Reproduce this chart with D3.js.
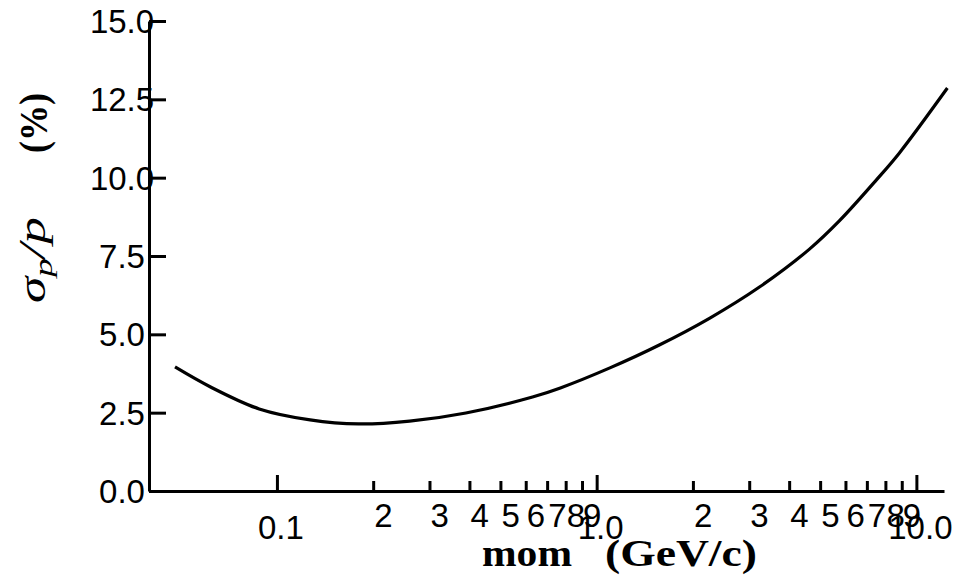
<!DOCTYPE html>
<html>
<head>
<meta charset="utf-8">
<script src="https://cdn.jsdelivr.net/npm/d3@7"></script>
<style>
  body { margin: 0; background: #fff; }
  svg { display: block; }
  .tick-label { font-family: "Liberation Sans", Arial, sans-serif; font-size: 33px; fill: #000; }
</style>
</head>
<body>
<svg id="chart" width="953" height="577"></svg>
<script>
// momentum (GeV/c) and resolution (%)
var mom   = [0.048, 0.062, 0.088, 0.127, 0.18, 0.26, 0.39, 0.63, 0.77, 1.10, 1.57, 2.26, 3.23, 4.63, 5.74, 7.5, 8.85, 12.5];
var sigma = [3.96, 3.32, 2.62, 2.27, 2.14, 2.23, 2.49, 3.0, 3.29, 3.93, 4.66, 5.52, 6.51, 7.72, 8.62, 9.93, 10.79, 12.86];

var yTicks = [0, 2.5, 5, 7.5, 10, 12.5, 15];
var xMajor = [0.1, 1, 10];
var xMajorLabels = ["0.1", "1.0", "10.0"];
var xMinor = [0.2, 0.3, 0.4, 0.5, 0.6, 0.7, 0.8, 0.9, 2, 3, 4, 5, 6, 7, 8, 9];
var xMinorLabels = ["2", "3", "4", "5", "6", "7", "8", "9", "2", "3", "4", "5", "6", "7", "8", "9"];

var svg = d3.select("#chart");

/*
 * scales
 */
var x = d3.scaleLog().domain([0.0398, 12.2]).range([149, 944]);
var y = d3.scaleLinear().domain([0, 15]).range([491, 21]);

function thick(g) {
    g.selectAll("path, line").attr("stroke", "#000").attr("stroke-width", 3);
}

// y axis, ticks pointing inward
svg.append("g")
    .attr("transform", "translate(" + x.range()[0] + ",0)")
    .call(d3.axisRight(y).tickValues(yTicks).tickSize(17).tickSizeOuter(0).tickFormat(""))
    .call(thick);

svg.selectAll(".ylab")
    .data(yTicks)
    .enter().append("text")
    .attr("class", "tick-label")
    .attr("x", x.range()[0] - 27)
    .attr("y", function(d) { return y(d); })
    .attr("dy", "0.36em")
    .attr("text-anchor", "middle")
    .text(d3.format(".1f"));

// x axis, minor ticks then major ticks (pointing up)
svg.append("g")
    .attr("transform", "translate(0," + y(0) + ")")
    .call(d3.axisTop(x).tickValues(xMinor).tickSize(10).tickSizeOuter(0).tickFormat(""))
    .call(thick);

svg.append("g")
    .attr("transform", "translate(0," + y(0) + ")")
    .call(d3.axisTop(x).tickValues(xMajor).tickSize(16).tickSizeOuter(0).tickFormat(""))
    .call(thick)
    .select(".domain").remove();

svg.selectAll(".xminor")
    .data(xMinor)
    .enter().append("text")
    .attr("class", "tick-label")
    .attr("x", function(d) { return x(d) + 1; })
    .attr("y", 527)
    .attr("text-anchor", "start")
    .text(function(d, i) { return xMinorLabels[i]; });

svg.selectAll(".xmajor")
    .data(xMajor)
    .enter().append("text")
    .attr("class", "tick-label")
    .attr("x", function(d) { return x(d) + 4; })
    .attr("y", 539)
    .attr("text-anchor", "middle")
    .text(function(d, i) { return xMajorLabels[i]; });

/*
 * axis titles
 */
svg.append("text")
    .attr("x", 482).attr("y", 566)
    .attr("textLength", 90).attr("lengthAdjust", "spacingAndGlyphs")
    .style("font-family", "'Liberation Serif', serif")
    .style("font-weight", "bold").style("font-size", "37px")
    .text("mom");

svg.append("text")
    .attr("x", 605).attr("y", 566)
    .attr("textLength", 152).attr("lengthAdjust", "spacingAndGlyphs")
    .style("font-family", "'Liberation Serif', serif")
    .style("font-weight", "bold").style("font-size", "37px")
    .text("(GeV/c)");

var ylab = svg.append("text")
    .attr("transform", "translate(45,303) rotate(-90)")
    .attr("textLength", 86).attr("lengthAdjust", "spacingAndGlyphs")
    .style("font-family", "'Liberation Serif', serif")
    .style("font-style", "italic").style("font-size", "38px");
ylab.append("tspan").text("σ");
ylab.append("tspan").attr("dy", 7).style("font-size", "26px").text("p");
ylab.append("tspan").attr("dy", -7).text("/p");

svg.append("text")
    .attr("transform", "translate(47,153) rotate(-90)")
    .attr("textLength", 60).attr("lengthAdjust", "spacingAndGlyphs")
    .style("font-family", "'Liberation Serif', serif")
    .style("font-weight", "bold").style("font-size", "40px")
    .text("(%)");

/*
 * curve
 */
var pts = mom.map(function(m, i) { return [m, sigma[i]]; });

var line = d3.line()
    .x(function(d) { return x(d[0]); })
    .y(function(d) { return y(d[1]); })
    .curve(d3.curveCatmullRom.alpha(0.5));

svg.append("path")
    .datum(pts)
    .attr("fill", "none")
    .attr("stroke", "#000")
    .attr("stroke-width", 3.2)
    .attr("d", line);
</script>
</body>
</html>
